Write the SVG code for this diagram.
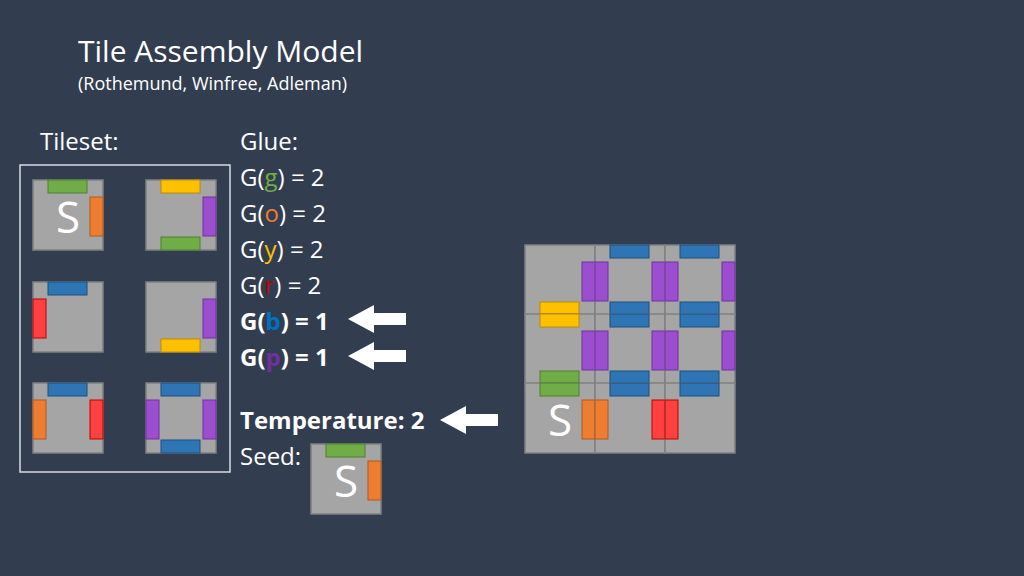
<svg xmlns="http://www.w3.org/2000/svg" width="1024" height="576" viewBox="0 0 1024 576">
<style>
text{font-family:"Open Sans","Liberation Sans",sans-serif;fill:#fff}
.t{fill:#a5a5a5;stroke:#7f8080;stroke-width:1.5}
.G{fill:#70ad47;stroke:#507e32}.O{fill:#ed7d31;stroke:#ae5a21}.Y{fill:#ffc000;stroke:#bc8c00}
.R{fill:#ff4040;stroke:#c00000}.B{fill:#2e75b6;stroke:#1f4e79}.P{fill:#9b4fcf;stroke:#7030a0}
.s{font-size:44px}
</style>
<defs>
<rect id="top" x="15" y="0" width="39" height="13"/>
<rect id="bot" x="15" y="57" width="39" height="13"/>
<rect id="lft" x="0" y="17" width="13" height="39"/>
<rect id="rgt" x="57" y="17" width="13" height="39"/>
<path id="arr" d="M0,14 L26,0 V8 H58 V20 H26 V28 Z" fill="#fff"/>
</defs>
<rect width="1024" height="576" fill="#333d50"/>
<text x="78" y="62" font-size="30">Tile Assembly Model</text>
<text x="78" y="90" font-size="18">(Rothemund, Winfree, Adleman)</text>
<text x="40" y="150" font-size="24">Tileset:</text>
<rect x="20" y="165" width="210" height="307" fill="none" stroke="#d9dde3" stroke-width="1.5"/>
<g id="tile1" transform="translate(33,180)"><rect class="t" width="70" height="70"/><use href="#top" class="G"/><use href="#rgt" class="O"/><text x="35" y="53" class="s" text-anchor="middle">S</text></g>
<g id="tile2" transform="translate(146,180)"><rect class="t" width="70" height="70"/><use href="#top" class="Y"/><use href="#rgt" class="P"/><use href="#bot" class="G"/></g>
<g id="tile3" transform="translate(33,282)"><rect class="t" width="70" height="70"/><use href="#top" class="B"/><use href="#lft" class="R"/></g>
<g id="tile4" transform="translate(146,282)"><rect class="t" width="70" height="70"/><use href="#rgt" class="P"/><use href="#bot" class="Y"/></g>
<g id="tile5" transform="translate(33,383)"><rect class="t" width="70" height="70"/><use href="#top" class="B"/><use href="#lft" class="O"/><use href="#rgt" class="R"/></g>
<g id="tile6" transform="translate(146,383)"><rect class="t" width="70" height="70"/><use href="#top" class="B"/><use href="#lft" class="P"/><use href="#rgt" class="P"/><use href="#bot" class="B"/></g>
<g id="glue" font-size="24">
<text x="240" y="150">Glue:</text>
<text x="240" y="186">G(<tspan fill="#70ad47">g</tspan>) = 2</text>
<text x="240" y="222">G(<tspan fill="#ed7d31">o</tspan>) = 2</text>
<text x="240" y="258">G(<tspan fill="#ffc000">y</tspan>) = 2</text>
<text x="240" y="294">G(<tspan fill="#c00000">r</tspan>) = 2</text>
<text x="240" y="330" font-weight="bold">G(<tspan fill="#0070c0">b</tspan>) = 1</text>
<text x="240" y="366" font-weight="bold">G(<tspan fill="#7030a0">p</tspan>) = 1</text>
<text x="240" y="429" font-weight="bold">Temperature: 2</text>
<text x="240" y="465">Seed:</text>
</g>
<g id="connectors">
<use href="#arr" transform="translate(348,305)"/>
<use href="#arr" transform="translate(348,342)"/>
<use href="#arr" transform="translate(440,406)"/>
</g>
<g id="seed" transform="translate(311,444)"><rect class="t" width="70" height="70"/><use href="#top" class="G"/><use href="#rgt" class="O"/><text x="35" y="53" class="s" text-anchor="middle">S</text></g>
<g id="assembly">
<g transform="translate(525,245)"><rect class="t" width="70" height="70"/><use href="#rgt" class="P"/><use href="#bot" class="Y"/></g>
<g transform="translate(525,314)"><rect class="t" width="70" height="70"/><use href="#top" class="Y"/><use href="#rgt" class="P"/><use href="#bot" class="G"/></g>
<g transform="translate(525,383)"><rect class="t" width="70" height="70"/><use href="#top" class="G"/><use href="#rgt" class="O"/><text x="35" y="53" class="s" text-anchor="middle">S</text></g>
<g transform="translate(595,245)"><rect class="t" width="70" height="70"/><use href="#top" class="B"/><use href="#lft" class="P"/><use href="#rgt" class="P"/><use href="#bot" class="B"/></g>
<g transform="translate(595,314)"><rect class="t" width="70" height="70"/><use href="#top" class="B"/><use href="#lft" class="P"/><use href="#rgt" class="P"/><use href="#bot" class="B"/></g>
<g transform="translate(595,383)"><rect class="t" width="70" height="70"/><use href="#top" class="B"/><use href="#lft" class="O"/><use href="#rgt" class="R"/></g>
<g transform="translate(665,245)"><rect class="t" width="70" height="70"/><use href="#top" class="B"/><use href="#lft" class="P"/><use href="#rgt" class="P"/><use href="#bot" class="B"/></g>
<g transform="translate(665,314)"><rect class="t" width="70" height="70"/><use href="#top" class="B"/><use href="#lft" class="P"/><use href="#rgt" class="P"/><use href="#bot" class="B"/></g>
<g transform="translate(665,383)"><rect class="t" width="70" height="70"/><use href="#top" class="B"/><use href="#lft" class="R"/></g>
</g>
</svg>
